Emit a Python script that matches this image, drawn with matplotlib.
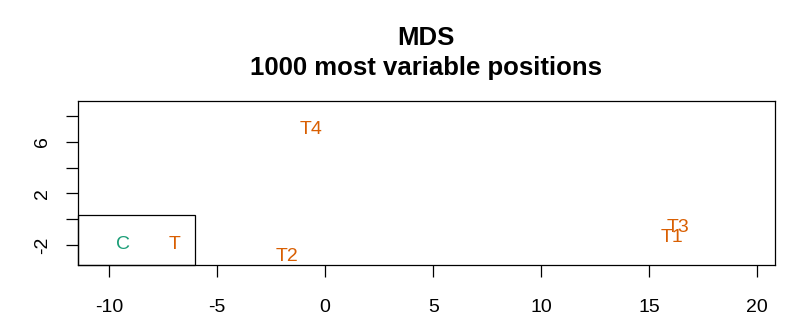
import matplotlib
matplotlib.use("Agg")
import matplotlib.pyplot as plt
from matplotlib.patches import Rectangle

plt.rcParams["font.family"] = ["Liberation Sans", "DejaVu Sans"]

# MDS coordinates of the samples (dimension 1, dimension 2)
samples = ["T4", "T2", "T3", "T1"]
dim1 = [-0.65, -1.75, 16.35, 16.05]
dim2 = [6.95, -2.9, -0.65, -1.4]
groups = ["T", "T", "T", "T"]

group_names = ["C", "T"]
group_colors = {"C": "#1B9E77", "T": "#D95F02"}

x_ticks = [-10, -5, 0, 5, 10, 15, 20]
y_ticks = [-2, 0, 2, 4, 6, 8]
y_labels = ["-2", "", "2", "", "6", ""]

fig = plt.figure(figsize=(8, 3.36), dpi=100)
ax = fig.add_axes([0.0975, 0.21, 0.8715, 0.489])

for name, x, y, g in zip(samples, dim1, dim2, groups):
    ax.text(x, y, name, color=group_colors[g], fontsize=14,
            ha="center", va="center")

ax.set_xlim(-11.44, 20.83)
ax.set_ylim(-3.59, 9.16)
ax.set_xticks(x_ticks)
ax.set_xticklabels([str(t) for t in x_ticks])
ax.set_yticks(y_ticks)
ax.set_yticklabels(y_labels, rotation=90, va="center")
ax.tick_params(axis="both", length=8.5, width=0.9, labelsize=14)
ax.tick_params(axis="x", pad=16)
ax.tick_params(axis="y", pad=11)
for sp in ax.spines.values():
    sp.set_linewidth(0.9)

# text-only legend in the lower-left corner
ax.add_patch(Rectangle((0, 0), 0.168, 0.309, transform=ax.transAxes,
                       fill=False, edgecolor="black", linewidth=0.9,
                       clip_on=False))
for g, lx in zip(group_names, [0.0646, 0.139]):
    ax.text(lx, 0.13, g, color=group_colors[g], fontsize=14,
            ha="center", va="center", transform=ax.transAxes)

fig.text(0.532, 0.886, "MDS", ha="center", va="center",
         fontsize=18.5, fontweight="bold")
fig.text(0.532, 0.797, "1000 most variable positions", ha="center",
         va="center", fontsize=18.5, fontweight="bold")

fig.savefig("out.png", dpi=100)
